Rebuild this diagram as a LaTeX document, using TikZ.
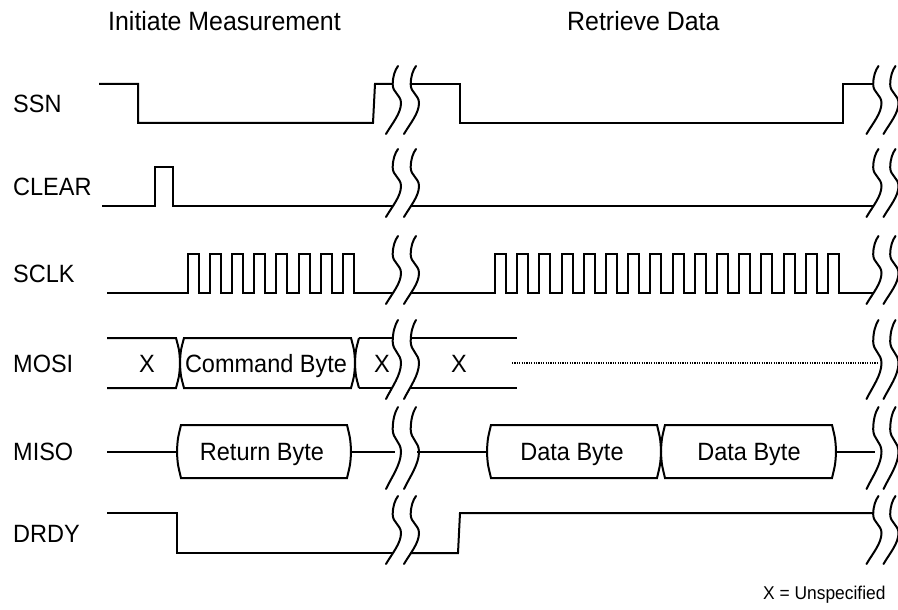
\documentclass[tikz,border=0pt]{standalone}
\usepackage{fontspec}
\setmainfont{Liberation Sans}[FakeStretch=0.94]
\newcommand{\brkcurve}{(0,0) .. controls (6,-10) and (15,-20) .. (15,-30) .. controls (15,-38) and (6.7,-40) .. (6.7,-48) .. controls (6.7,-56) and (9,-62) .. (12,-66)}
% #1 = x of first curve bottom, #2 = y bottom, #3 = height, #4 = spacing
\newcommand{\brkpair}[4]{%
  \begin{scope}[shift={(#1,#2)}, yscale=#3/66]
    \draw[brkline] \brkcurve;
  \end{scope}
  \begin{scope}[shift={(#1+#4,#2)}, yscale=#3/66]
    \draw[brkline] \brkcurve;
  \end{scope}}
% bus segment: #1 left x, #2 right x, #3 top y, #4 bottom y ; ends bulge outward by 4
\newcommand{\busseg}[4]{%
  \draw[sig] (#1-4,{(#3+#4)/2}) .. controls (#1-3.5,{(#3+#4)/2-12}) .. (#1,#3) -- (#2,#3)
     .. controls (#2+3.5,{(#3+#4)/2-12}) .. (#2+4,{(#3+#4)/2})
     .. controls (#2+3.5,{(#3+#4)/2+12}) .. (#2,#4) -- (#1,#4)
     .. controls (#1-3.5,{(#3+#4)/2+12}) .. (#1-4,{(#3+#4)/2}) -- cycle;}
\tikzset{
  sig/.style={line width=2pt, line join=miter},
  brkline/.style={line width=2pt, line cap=round},
  dotline/.style={line width=1.6pt, dash pattern=on 1.2pt off 1.2pt},
  txt/.style={font=\fontsize{25}{29}\selectfont, inner sep=0pt},
  ttl/.style={font=\fontsize{26.5}{30}\selectfont, inner sep=0pt},
  small/.style={font=\fontsize{18.5}{22}\selectfont, inner sep=0pt},
}
\begin{document}
\begin{tikzpicture}[x=1pt,y=-1pt]
\useasboundingbox (0,0) rectangle (898,610);

% titles
\node[ttl, anchor=base west] (t1) at (108,31) {Initiate Measurement};
\node[ttl, anchor=base west] (t2) at (567,31) {Retrieve Data};

% labels
\node[txt, anchor=base west] (lssn) at (13,112.5) {SSN};
\node[txt, anchor=base west] (lclr) at (13,195.5) {CLEAR};
\node[txt, anchor=base west] (lsclk) at (13,282.5) {SCLK};
\node[txt, anchor=base west] (lmosi) at (13,372) {MOSI};
\node[txt, anchor=base west] (lmiso) at (13,460.5) {MISO};
\node[txt, anchor=base west] (ldrdy) at (13,542) {DRDY};

% SSN
\draw[sig] (99,84) -- (138,84) -- (138,123) -- (373,123) -- (375,84) -- (393,84);
\draw[sig] (410,84) -- (460,84) -- (460,123) -- (843,123) -- (843,84) -- (873,84);
\brkpair{386}{134}{68}{18}
\brkpair{866.5}{134}{68}{17}

% CLEAR
\draw[sig] (102,206) -- (155,206) -- (155,167) -- (173,167) -- (173,206) -- (393,206);
\draw[sig] (410,206) -- (873,206);
\brkpair{386}{217}{68}{18}
\brkpair{866.5}{217}{68}{17}

% SCLK
\draw[sig] (107,293)
  \foreach \i in {0,...,7} { -- ({round(188+\i*22.1)},293) -- ({round(188+\i*22.1)},254) -- ({round(199+\i*22.1)},254) -- ({round(199+\i*22.1)},293) }
  -- (393,293);
\draw[sig] (410,293)
  \foreach \i in {0,...,15} { -- ({round(495+\i*22.2)},293) -- ({round(495+\i*22.2)},254) -- ({round(506+\i*22.2)},254) -- ({round(506+\i*22.2)},293) }
  -- (873,293);
\brkpair{386}{304}{68}{18}
\brkpair{866.5}{304}{68}{17}

% MOSI
\draw[sig] (107,338) -- (176,338) .. controls (179.5,351) .. (180,363) .. controls (179.5,375) .. (176,388) -- (107,388);
\busseg{184}{351}{338}{388}
\draw[sig] (359,338) .. controls (355.5,351) .. (355,363) .. controls (355.5,375) .. (359,388);
\draw[sig] (359,338) -- (392,338);
\draw[sig] (359,388) -- (391.5,388);
\draw[sig] (411,338) -- (517,338);
\draw[sig] (410,388) -- (517,388);
\draw[dotline] (512,363) -- (879,363);
\node[txt, anchor=base] (x1) at (147,372) {X};
\node[txt, anchor=base] (cmd) at (266,372) {Command Byte};
\node[txt, anchor=base] (x2) at (382,372) {X};
\node[txt, anchor=base] (x3) at (459,372) {X};
\brkpair{386}{399}{79}{18}
\brkpair{866.5}{399}{79}{17}

% MISO
\draw[sig] (107,452) -- (177,452);
\busseg{181}{347}{425}{478}
\draw[sig] (351,452) -- (395,452);
\draw[sig] (417,452) -- (487,452);
\busseg{491}{657}{425}{478}
\busseg{665}{832}{425}{478}
\draw[sig] (836,452) -- (875,452);
\node[txt, anchor=base] (rb) at (262,460.5) {Return Byte};
\node[txt, anchor=base] (db1) at (572,460.5) {Data Byte};
\node[txt, anchor=base] (db2) at (749,460.5) {Data Byte};
\brkpair{386}{489}{82}{18}
\brkpair{866.5}{489}{82}{17}

% DRDY
\draw[sig] (107,513) -- (177,513) -- (177,553) -- (393,553);
\draw[sig] (410,553) -- (458,553) -- (460,513) -- (873,513);
\brkpair{386}{564}{68}{18}
\brkpair{866.5}{564}{68}{17}

\node[small, anchor=base west] (note) at (763,599) {X = Unspecified};
\end{tikzpicture}
\end{document}
